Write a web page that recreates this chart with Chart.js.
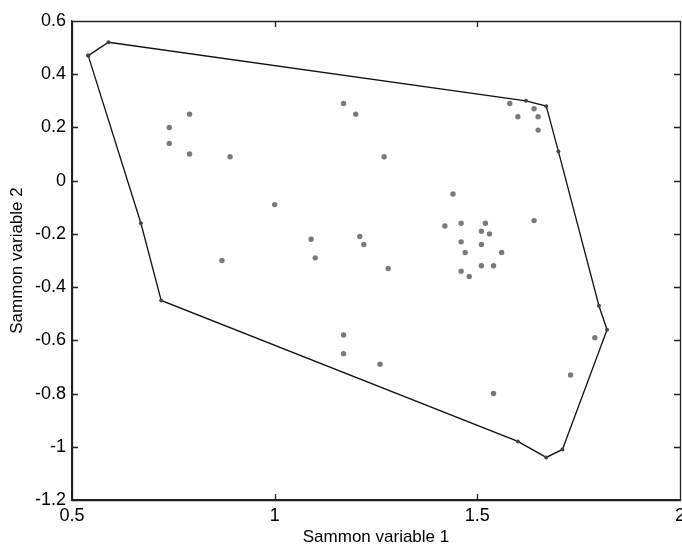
<!DOCTYPE html>
<html>
<head>
<meta charset="utf-8">
<script src="https://cdn.jsdelivr.net/npm/chart.js@4/dist/chart.umd.min.js"></script>
<style>
  html, body { margin: 0; padding: 0; background: #fff; overflow: hidden; }
  #wrap { width: 690px; height: 548px; }
</style>
</head>
<body>
<div id="wrap"><canvas id="sammonChart" width="690" height="548"></canvas></div>
<script>
// Sammon projection points (variable 1, variable 2)
const sammonX = [0.74, 0.74, 0.79, 0.79, 0.89, 1.17, 1.20, 1.27, 1.00, 1.09, 1.10, 0.87,
    1.21, 1.22, 1.28, 1.44, 1.42, 1.46, 1.46, 1.47, 1.46, 1.48, 1.51, 1.51, 1.52, 1.53,
    1.51, 1.54, 1.56, 1.64, 1.60, 1.65, 1.65, 1.58, 1.64, 1.17, 1.17, 1.26, 1.54, 1.73, 1.79];
const sammonY = [0.20, 0.14, 0.10, 0.25, 0.09, 0.29, 0.25, 0.09, -0.09, -0.22, -0.29, -0.30,
    -0.21, -0.24, -0.33, -0.05, -0.17, -0.16, -0.23, -0.27, -0.34, -0.36, -0.24, -0.19, -0.16, -0.20,
    -0.32, -0.32, -0.27, -0.15, 0.24, 0.24, 0.19, 0.29, 0.27, -0.58, -0.65, -0.69, -0.80, -0.73, -0.59];

// convex hull vertices, in drawing order
const hullX = [0.54, 0.59, 1.62, 1.67, 1.70, 1.80, 1.82, 1.71, 1.67, 1.60, 0.72, 0.67, 0.54];
const hullY = [0.47, 0.52, 0.30, 0.28, 0.11, -0.47, -0.56, -1.01, -1.04, -0.98, -0.45, -0.16, 0.47];

const xTicks = [0.5, 1, 1.5, 2];
const yTicks = [0.6, 0.4, 0.2, 0, -0.2, -0.4, -0.6, -0.8, -1, -1.2];

const fmt = v => String(Number(Number(v).toFixed(1)));
const fontFam = 'Liberation Sans, Arial, sans-serif';

// MATLAB-like box with inward ticks
const boxTicks = {
    id: 'boxTicks',
    afterDatasetsDraw(chart) {
        const c = chart.ctx;
        const a = chart.chartArea;
        const sx = chart.scales.x, sy = chart.scales.y;
        c.save();
        c.strokeStyle = '#222';
        c.lineWidth = 1.3;
        c.beginPath();
        c.rect(a.left + 0.5, a.top + 0.5, a.right - a.left, a.bottom - a.top);
        xTicks.forEach(v => {
            const px = Math.round(sx.getPixelForValue(v)) + 0.5;
            c.moveTo(px, a.bottom); c.lineTo(px, a.bottom - 6);
            c.moveTo(px, a.top); c.lineTo(px, a.top + 6);
        });
        yTicks.forEach(v => {
            const py = Math.round(sy.getPixelForValue(v)) + 0.5;
            c.moveTo(a.left, py); c.lineTo(a.left + 6, py);
            c.moveTo(a.right, py); c.lineTo(a.right - 6, py);
        });
        c.stroke();
        c.restore();
    }
};

const ctx = document.getElementById('sammonChart').getContext('2d');
new Chart(ctx, {
    type: 'scatter',
    data: {
        datasets: [{
            label: 'hull',
            data: hullX.map((x, i) => ({ x: x, y: hullY[i] })),
            showLine: true,
            borderColor: '#111',
            borderWidth: 1.3,
            pointRadius: 2,
            pointBackgroundColor: '#444',
            pointBorderWidth: 0,
            tension: 0
        }, {
            label: 'points',
            data: sammonX.map((x, i) => ({ x: x, y: sammonY[i] })),
            pointRadius: 2.7,
            pointBackgroundColor: '#7a7a7a',
            pointBorderWidth: 0
        }]
    },
    options: {
        responsive: false,
        animation: false,
        layout: { padding: { top: 21, right: 9, left: 0, bottom: 0 } },
        plugins: {
            legend: { display: false },
            tooltip: { enabled: false }
        },
        scales: {
            x: {
                type: 'linear',
                min: 0.5,
                max: 2,
                afterBuildTicks: s => { s.ticks = xTicks.map(v => ({ value: v })); },
                afterFit: s => { s.height = 48; },
                grid: { display: false, drawTicks: false },
                border: { display: true, color: '#222', width: 1.3 },
                ticks: {
                    padding: 5,
                    color: '#000',
                    font: { family: fontFam, size: 18 },
                    callback: v => fmt(v)
                },
                title: {
                    display: true,
                    text: 'Sammon variable 1',
                    color: '#000',
                    padding: { top: 0, bottom: 0 },
                    font: { family: fontFam, size: 17 }
                }
            },
            y: {
                type: 'linear',
                min: -1.2,
                max: 0.6,
                afterBuildTicks: s => { s.ticks = yTicks.map(v => ({ value: v })); },
                afterFit: s => { s.width = 72; },
                grid: { display: false, drawTicks: false },
                border: { display: true, color: '#222', width: 1.3 },
                ticks: {
                    padding: 6,
                    color: '#000',
                    font: { family: fontFam, size: 18 },
                    callback: v => fmt(v)
                },
                title: {
                    display: true,
                    text: 'Sammon variable 2',
                    color: '#000',
                    padding: { top: 7, bottom: 0 },
                    font: { family: fontFam, size: 17 }
                }
            }
        }
    },
    plugins: [boxTicks]
});
</script>
</body>
</html>
